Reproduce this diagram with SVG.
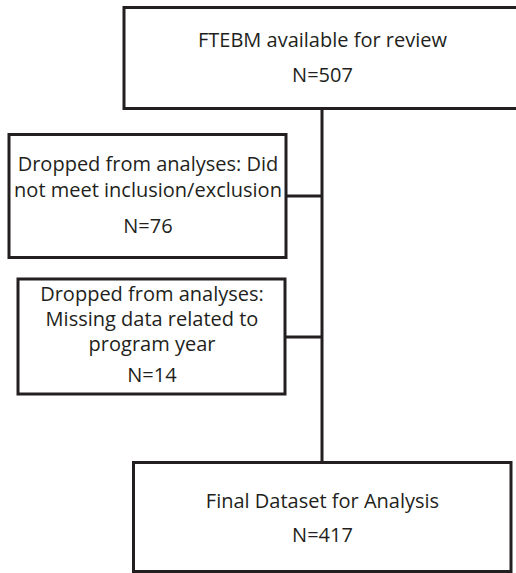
<svg xmlns="http://www.w3.org/2000/svg" width="516" height="573" viewBox="0 0 516 573">
<style>
.box{fill:#ffffff;stroke:#231f20;stroke-width:3}
.ln{fill:none;stroke:#231f20;stroke-width:3}
text{font-family:"Open Sans","Liberation Sans",sans-serif;font-size:20px;fill:#231f20;text-anchor:middle}
</style>
<rect width="516" height="573" fill="#ffffff"/>
<g id="connectors">
<line class="ln" x1="322" y1="108" x2="322" y2="462"/>
<line class="ln" x1="286" y1="196" x2="322" y2="196"/>
<line class="ln" x1="285" y1="337" x2="322" y2="337"/>
</g>
<g id="node-available">
<rect class="box" x="124" y="7.5" width="400" height="101"/>
<text x="322.5" y="47">FTEBM available for review</text>
<text x="322.5" y="82">N=507</text>
</g>
<g id="node-dropped-inclusion">
<rect class="box" x="9" y="134.5" width="277" height="123"/>
<text x="148" y="171">Dropped from analyses: Did</text>
<text x="148" y="197">not meet inclusion/exclusion</text>
<text x="148" y="233">N=76</text>
</g>
<g id="node-dropped-missing">
<rect class="box" x="18" y="279" width="267" height="115"/>
<text x="152" y="300.5">Dropped from analyses:</text>
<text x="152" y="326">Missing data related to</text>
<text x="152" y="350.5">program year</text>
<text x="152" y="381.5">N=14</text>
</g>
<g id="node-final">
<rect class="box" x="133.5" y="462.5" width="377.5" height="109"/>
<text x="322.5" y="507.5">Final Dataset for Analysis</text>
<text x="322.5" y="542">N=417</text>
</g>
</svg>
